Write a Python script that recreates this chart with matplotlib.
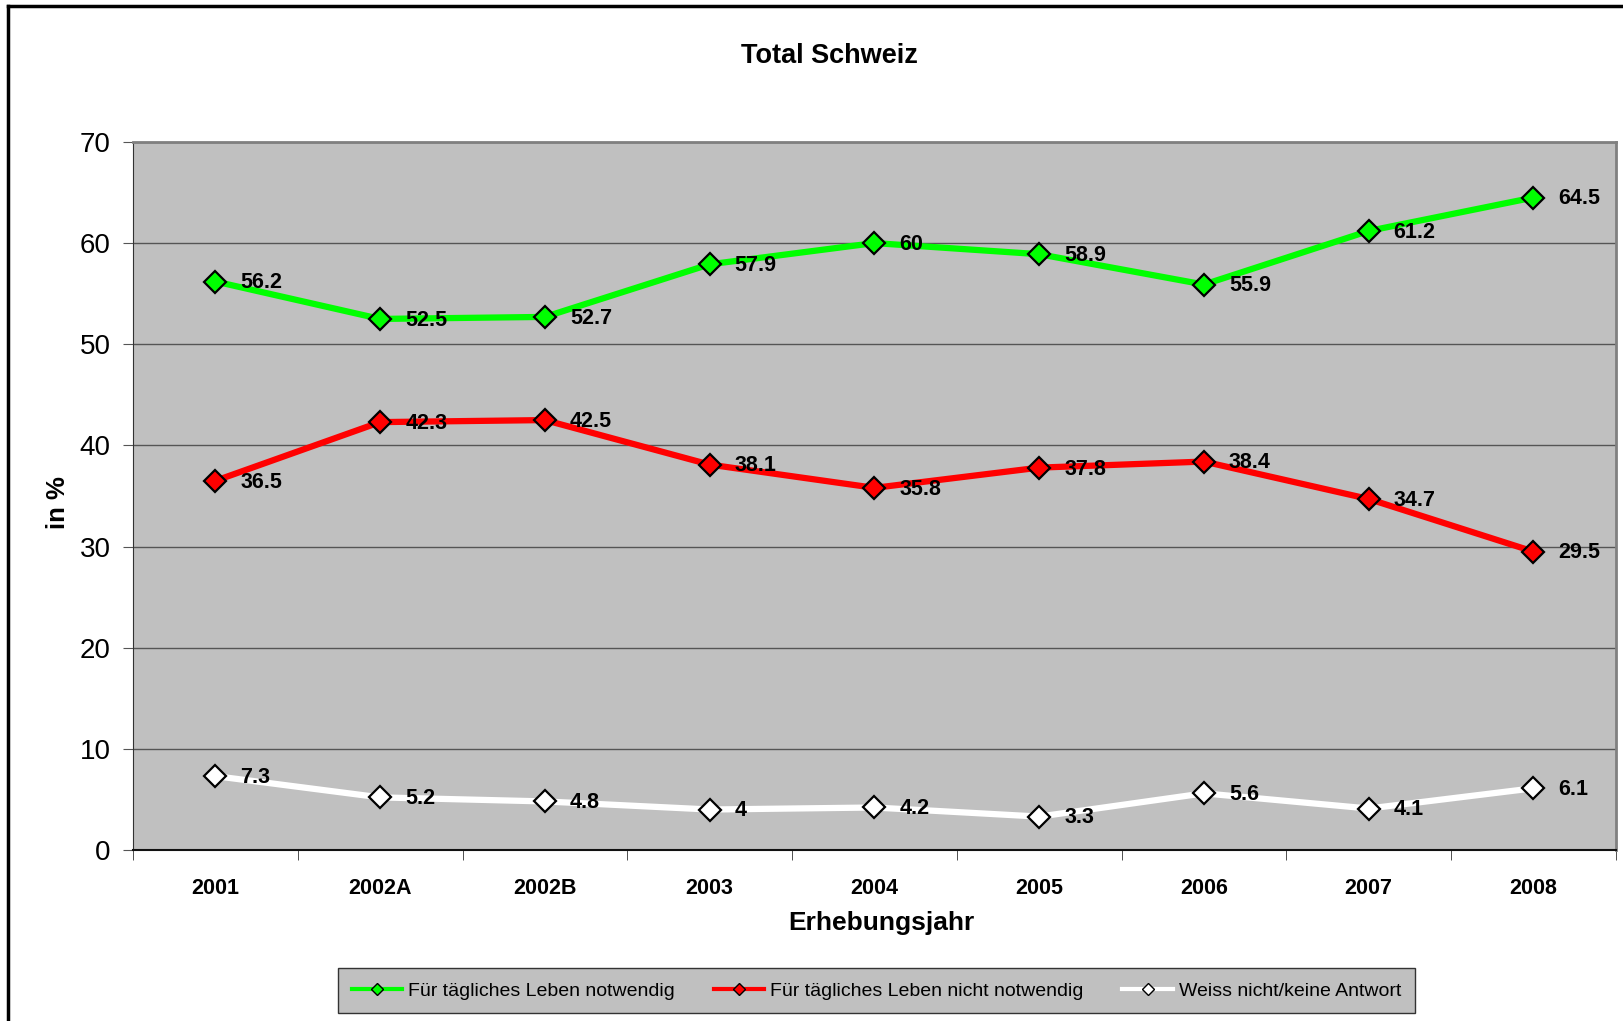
import matplotlib.pyplot as plt
from matplotlib.lines import Line2D

plt.rcParams['font.family'] = ['Liberation Sans', 'DejaVu Sans']

years = ['2001', '2002A', '2002B', '2003', '2004', '2005', '2006', '2007', '2008']
notwendig = [56.2, 52.5, 52.7, 57.9, 60, 58.9, 55.9, 61.2, 64.5]
nicht_notwendig = [36.5, 42.3, 42.5, 38.1, 35.8, 37.8, 38.4, 34.7, 29.5]
weiss_nicht = [7.3, 5.2, 4.8, 4, 4.2, 3.3, 5.6, 4.1, 6.1]
labels = ['Für tägliches Leben notwendig',
          'Für tägliches Leben nicht notwendig',
          'Weiss nicht/keine Antwort']
colors = ['#00ff00', '#ff0000', '#ffffff']

fig = plt.figure(figsize=(16.24, 10.21), dpi=100)
ax = fig.add_axes([0.0819, 0.1675, 0.9131, 0.6935])
ax.set_facecolor('#c0c0c0')

x = list(range(len(years)))
handles = []
for series, col, lab in zip([notwendig, nicht_notwendig, weiss_nicht], colors, labels):
    ax.plot(x, series, color=col, lw=4.5, marker='D', markersize=11,
            markerfacecolor=col, markeredgecolor='black', markeredgewidth=1.6,
            zorder=3, solid_joinstyle='round')
    for xi, v in zip(x, series):
        ax.annotate(f'{v:g}', (xi, v), xytext=(18, -1), textcoords='offset points',
                    ha='left', va='center', fontsize=15.5, fontweight='bold', zorder=4)
    handles.append(Line2D([], [], color=col, lw=3, marker='D', markersize=6,
                          markerfacecolor=col, markeredgecolor='black',
                          markeredgewidth=1))

ax.set_xlim(-0.5, len(years) - 0.5)
ax.set_ylim(0, 70)
ax.set_yticks(range(0, 71, 10))
ax.yaxis.grid(True, color='#555555', lw=1)
ax.set_axisbelow(True)
ax.tick_params(axis='y', labelsize=20, length=7, direction='out', color='#555555', pad=9)
ax.set_xticks(x)
ax.set_xticklabels(years, fontsize=15.5, fontweight='bold')
ax.set_xticks([i + 0.5 for i in range(-1, len(years))], minor=True)
ax.tick_params(axis='x', which='major', length=0, pad=20)
ax.tick_params(axis='x', which='minor', length=7, direction='out', color='#333333')

ax.spines['left'].set_color('#333333')
ax.spines['bottom'].set_color('#111111')
ax.spines['bottom'].set_linewidth(1.5)
ax.spines['top'].set_color('#808080')
ax.spines['right'].set_color('#808080')
ax.spines['top'].set_linewidth(2)
ax.spines['right'].set_linewidth(2)

fig.text(0.511, 0.945, 'Total Schweiz', ha='center', va='center',
         fontsize=19.5, fontweight='bold')
fig.text(0.543, 0.096, 'Erhebungsjahr', ha='center', va='center',
         fontsize=19, fontweight='bold')
fig.text(0.036, 0.508, 'in %', ha='center', va='center', rotation=90,
         fontsize=18.5, fontweight='bold')

leg = fig.legend(handles, labels, loc='center', bbox_to_anchor=(0.5397, 0.0295),
                 ncol=3, fontsize=14, frameon=True, fancybox=False,
                 handlelength=2.6, handletextpad=0.3, columnspacing=2.0,
                 borderpad=0.7)
leg.get_frame().set_facecolor('#c0c0c0')
leg.get_frame().set_edgecolor('#333333')
leg.get_frame().set_alpha(1)

# outer chart border
fig.add_artist(Line2D([0.0049, 0.0049], [0, 0.994], transform=fig.transFigure,
                      color='black', lw=2.5))
fig.add_artist(Line2D([0.0049, 1], [0.994, 0.994], transform=fig.transFigure,
                      color='black', lw=2.5))

fig.savefig('out.png', dpi=100)
